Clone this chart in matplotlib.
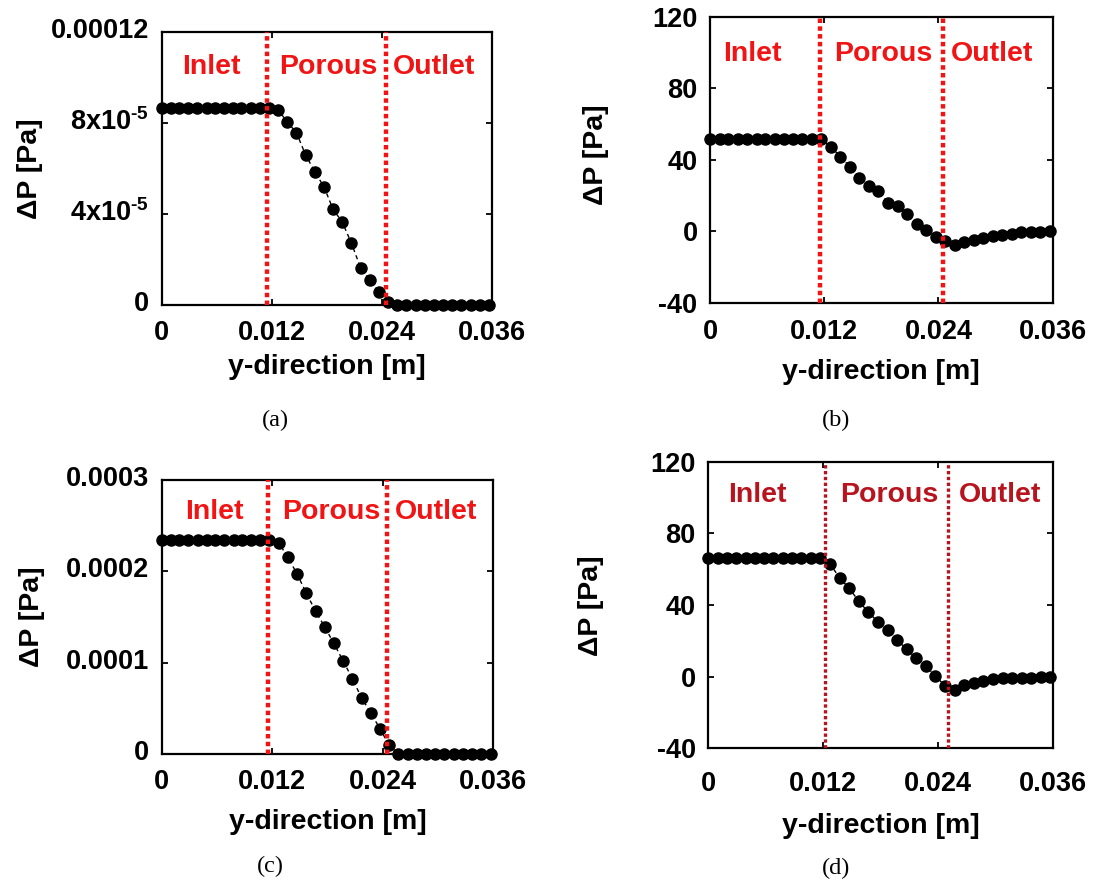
import matplotlib
matplotlib.use("Agg")
import matplotlib.pyplot as plt
import matplotlib.transforms as mtransforms

plt.rcParams['font.family'] = ['Liberation Sans', 'DejaVu Sans']
plt.rcParams['font.weight'] = 'bold'
plt.rcParams['mathtext.fontset'] = 'custom'
plt.rcParams['mathtext.rm'] = 'Liberation Sans:bold'
plt.rcParams['mathtext.it'] = 'Liberation Sans:bold'
plt.rcParams['mathtext.bf'] = 'Liberation Sans:bold'

# ---------------- data ----------------
y_pos = [0.0000, 0.0010, 0.0019, 0.0029, 0.0039, 0.0049, 0.0058, 0.0068, 0.0078,
         0.0087, 0.0097, 0.0107, 0.0117,
         0.0127, 0.0137, 0.0147, 0.0157, 0.0167, 0.0177, 0.0187, 0.0197, 0.0207,
         0.0217, 0.0227, 0.0237, 0.0247, 0.0257, 0.0267, 0.0277, 0.0287, 0.0297,
         0.0307, 0.0317, 0.0327, 0.0337, 0.0347, 0.0357]

dp_a = [8.67e-5] * 13 + [8.56e-5, 8.04e-5, 7.56e-5, 6.59e-5, 5.85e-5, 5.19e-5, 4.20e-5,
                         3.64e-5, 2.71e-5, 1.63e-5, 1.08e-5, 0.56e-5, 0.15e-5] + [0.0] * 11
dp_b = [51.5] * 13 + [47.2, 41.7, 36.1, 30.0, 25.3, 22.5, 15.9, 14.0, 9.4, 3.8, 0.4, -3.4,
                      -5.6, -7.5, -6.0, -5.1, -3.8, -2.8, -2.2, -1.5, -0.6, -0.6, -0.6, 0.0]
dp_c = [2.34e-4] * 13 + [2.315e-4, 2.152e-4, 1.971e-4, 1.761e-4, 1.565e-4, 1.391e-4, 1.21e-4,
                         1.018e-4, 0.826e-4, 0.613e-4, 0.45e-4, 0.276e-4, 0.095e-4] + [0.0] * 11
dp_d = [66.0] * 13 + [62.9, 55.2, 49.3, 42.2, 35.9, 30.7, 26.1, 20.5, 15.3, 10.3, 6.0, 0.4,
                      -5.2, -7.4, -4.6, -3.3, -2.2, -1.5, -0.9, -0.5, -0.5, -0.5, -0.3, 0.0]

x_ticks = [0, 0.012, 0.024, 0.036]
x_ticklabels = ['0', '0.012', '0.024', '0.036']

yt_a = [0, 4e-5, 8e-5, 1.2e-4]
yl_a = ['0', '4x10$^{\\text{-5}}$', '8x10$^{\\text{-5}}$', '0.00012']
yt_b = [-40, 0, 40, 80, 120]
yl_b = ['-40', '0', '40', '80', '120']
yt_c = [0, 1e-4, 2e-4, 3e-4]
yl_c = ['0', '0.0001', '0.0002', '0.0003']
yt_d = yt_b
yl_d = yl_b

regions = ['Inlet', 'Porous', 'Outlet']
boundaries_a = [0.01145, 0.02444]
boundaries_b = [0.01155, 0.02448]
boundaries_c = [0.01157, 0.0245]
boundaries_d = [0.0122, 0.0250]

captions = ['(a)', '(b)', '(c)', '(d)']

# ---------------- figure ----------------
W, H = 1102, 882
fig = plt.figure(figsize=(W / 100, H / 100), dpi=100)


def px_axes(l, r, t, b):
    return [l / W, 1 - b / H, (r - l) / W, (b - t) / H]


panels = [
    dict(rect=px_axes(161.7, 491.7, 31.7, 305), y=dp_a, yt=yt_a, yl=yl_a, ylim=(0, 1.2e-4),
         bnd=boundaries_a, red='#f01414', rlw=3.2,
         txt_x=[0.152, 0.504, 0.825], txt_y=0.871, xl_y=-0.227, yl_x=-0.400, yl_yy=0.50,
         xpad=11, ypad=9, shift=True, cap=(275, 420)),
    dict(rect=px_axes(710, 1052.7, 16.7, 302.7), y=dp_b, yt=yt_b, yl=yl_b, ylim=(-40, 120),
         bnd=boundaries_b, red='#f01414', rlw=3.2,
         txt_x=[0.123, 0.505, 0.823], txt_y=0.870, xl_y=-0.242, yl_x=-0.333, yl_yy=0.516,
         xpad=12, ypad=9, shift=False, cap=(836, 420)),
    dict(rect=px_axes(161.7, 493.3, 480, 754), y=dp_c, yt=yt_c, yl=yl_c, ylim=(0, 3e-4),
         bnd=boundaries_c, red='#f01414', rlw=3.2,
         txt_x=[0.158, 0.511, 0.827], txt_y=0.883, xl_y=-0.248, yl_x=-0.391, yl_yy=0.50,
         xpad=11, ypad=9, shift=True, cap=(270, 866)),
    dict(rect=px_axes(708.3, 1053.3, 461.7, 748.3), y=dp_d, yt=yt_d, yl=yl_d, ylim=(-40, 120),
         bnd=boundaries_d, red='#b8141e', rlw=2.4,
         txt_x=[0.141, 0.524, 0.845], txt_y=0.884, xl_y=-0.271, yl_x=-0.340, yl_yy=0.497,
         xpad=16, ypad=9, shift=False, cap=(836, 868)),
]

for i, p in enumerate(panels):
    ax = fig.add_axes(p['rect'])
    ax.plot(y_pos, p['y'], color='black', lw=1.0, ls=(0, (3, 2.5)),
            marker='o', markersize=8, markerfacecolor='black', markeredgecolor='black',
            zorder=3, clip_on=False)
    for b in p['bnd']:
        ax.axvline(b, color=p['red'], lw=p['rlw'], ls=(0, (1.0, 0.75)),
                   dash_capstyle='butt', zorder=4)
    ax.set_xlim(0, 0.036)
    ax.set_ylim(*p['ylim'])
    ax.set_xticks(x_ticks)
    ax.set_xticklabels(x_ticklabels)
    ax.set_yticks(p['yt'])
    ax.set_yticklabels(p['yl'])
    ax.tick_params(axis='both', direction='in', length=4, width=1.3,
                   top=True, right=True, labelsize=19.5)
    ax.tick_params(axis='x', pad=p['xpad'])
    ax.tick_params(axis='y', pad=p['ypad'])
    for lab in ax.get_xticklabels() + ax.get_yticklabels():
        lab.set_fontweight('bold')
    if p['shift']:
        off = mtransforms.ScaledTranslation(0, 4 / 100, fig.dpi_scale_trans)
        for lab in ax.get_yticklabels():
            lab.set_transform(lab.get_transform() + off)
    for s in ax.spines.values():
        s.set_linewidth(1.6)
    for name, tx in zip(regions, p['txt_x']):
        ax.text(tx, p['txt_y'], name, transform=ax.transAxes, color=p['red'],
                fontsize=20.5, fontweight='bold', ha='center', va='center', zorder=5)
    ax.set_xlabel('y-direction [m]', fontsize=20.5, fontweight='bold')
    ax.xaxis.set_label_coords(0.5, p['xl_y'])
    ax.xaxis.label.set_va('center')
    ax.set_ylabel('ΔP [Pa]', fontsize=20.5, fontweight='bold')
    ax.yaxis.set_label_coords(p['yl_x'], p['yl_yy'])
    ax.yaxis.label.set_va('center')
    cx, cy = p['cap']
    fig.text(cx / W, 1 - cy / H, captions[i], fontsize=17.5, family='Liberation Serif',
             fontweight='normal', ha='center', va='center')

fig.savefig('out.png', dpi=100)
